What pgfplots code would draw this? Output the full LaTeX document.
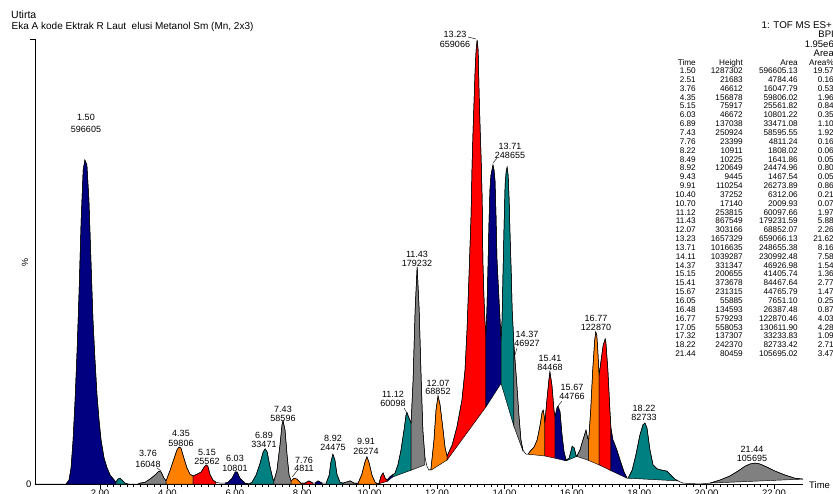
\documentclass[border=0pt]{standalone}
\usepackage{fontspec}
\setmainfont{Liberation Sans}
\usepackage{pgfplots}
\usepackage{pgfplotstable}
\pgfplotsset{compat=1.18}
\definecolor{cnavy}{RGB}{0,0,128}
\definecolor{corange}{RGB}{255,128,0}
\definecolor{cred}{RGB}{255,0,0}
\definecolor{cteal}{RGB}{0,128,128}
\definecolor{cgray}{RGB}{128,128,128}

\pgfplotstableread{
t y
0.07 0
0.99 0
1.08 0.9
1.14 3.6
1.20 9.9
1.26 18.9
1.32 30.1
1.38 43.6
1.44 59.3
1.50 70.6
1.55 72.8
1.61 71.7
1.67 63.8
1.73 50.3
1.79 36.9
1.85 27.9
1.91 20.0
1.97 14.4
2.03 9.9
2.12 5.8
2.21 3.6
2.30 2.0
2.42 0.9
2.47 0.4
2.53 1.1
2.59 1.3
2.65 0.9
2.74 0.2
2.83 0
3.13 0
3.19 0.2
3.34 0.4
3.48 1.1
3.63 2.0
3.75 2.9
3.81 2.7
3.90 1.3
3.96 0.7
4.08 3.1
4.20 5.8
4.28 7.6
4.34 8.3
4.40 8.1
4.49 5.8
4.58 3.6
4.67 2.2
4.76 1.8
4.88 2.2
5.00 2.7
5.09 3.8
5.15 4.3
5.20 4.0
5.26 2.2
5.35 0.9
5.44 0.4
5.56 0.2
5.71 0.2
5.80 0.4
5.92 1.3
6.01 2.7
6.07 2.7
6.15 1.3
6.30 0.2
6.42 0
6.51 0.4
6.63 2.0
6.75 4.7
6.84 7.2
6.90 7.9
6.96 7.2
7.04 4.0
7.13 1.1
7.16 0.7
7.25 3.1
7.34 8.8
7.40 13.3
7.43 14.2
7.49 12.1
7.55 6.5
7.61 2.0
7.67 0.7
7.76 1.3
7.84 1.1
7.96 0.2
8.08 0.2
8.20 0.7
8.32 0.2
8.38 0.2
8.47 0.7
8.59 0.2
8.71 0.2
8.80 2.0
8.85 4.9
8.91 6.7
8.97 5.4
9.03 2.2
9.12 0.4
9.21 0.2
9.42 0.7
9.54 0.2
9.66 0.2
9.77 2.2
9.86 4.9
9.92 6.1
9.98 4.9
10.07 2.0
10.16 0.4
10.25 0
10.28 0.2
10.34 1.8
10.40 2.5
10.46 1.3
10.52 0.9
10.61 1.7
10.69 2.1
10.75 2.4
10.84 4.3
10.93 7.6
11.02 12.1
11.08 15.5
11.11 16.0
11.17 14.8
11.23 13.7
11.29 23.4
11.35 39.1
11.41 48.8
11.47 39.1
11.53 23.4
11.58 12.1
11.64 6.1
11.70 4.0
11.76 3.1
11.82 3.4
11.91 9.9
11.97 16.6
12.03 19.8
12.09 17.8
12.18 12.1
12.24 8.1
12.30 6.3
12.45 8.8
12.59 12.8
12.74 18.9
12.83 25.6
12.89 34.6
12.95 47.0
12.98 53.7
13.01 60.4
13.04 71.7
13.07 79.6
13.10 86.3
13.13 93.0
13.16 97.5
13.19 99.8
13.22 97.5
13.25 87.4
13.28 79.6
13.31 72.8
13.34 63.8
13.36 50.3
13.39 42.5
13.42 36.9
13.45 33.5
13.48 39.1
13.51 48.1
13.54 58.2
13.57 66.1
13.60 69.4
13.66 71.7
13.69 70.6
13.72 68.3
13.75 60.4
13.78 50.3
13.84 41.3
13.87 36.9
13.90 32.4
13.93 36.9
13.96 48.1
13.99 58.2
14.02 67.2
14.05 70.1
14.08 71.2
14.11 69.4
14.14 63.8
14.17 55.1
14.20 48.1
14.23 39.1
14.26 34.6
14.28 31.2
14.31 28.3
14.37 22.2
14.43 15.5
14.49 9.9
14.55 7.6
14.64 6.7
14.70 6.7
14.79 7.6
14.88 8.3
14.97 9.9
15.06 13.3
15.12 16.2
15.15 16.6
15.18 15.3
15.20 13.7
15.26 18.9
15.32 23.4
15.35 25.2
15.41 22.2
15.47 16.6
15.50 15.1
15.56 17.1
15.59 17.5
15.65 16.2
15.71 11.0
15.77 7.2
15.83 5.4
15.92 5.8
16.01 8.5
16.07 8.1
16.13 6.3
16.15 6.3
16.24 7.6
16.33 9.9
16.42 12.1
16.47 10.3
16.50 9.9
16.56 16.6
16.62 25.6
16.68 32.4
16.71 34.2
16.74 33.5
16.77 30.1
16.81 24.5
16.87 27.9
16.93 31.2
16.99 32.6
17.01 31.9
17.07 25.6
17.13 16.6
17.16 12.6
17.22 9.9
17.25 9.4
17.34 7.6
17.43 5.4
17.55 2.7
17.64 1.3
17.67 1.3
17.79 3.1
17.90 6.5
18.02 11.0
18.11 13.3
18.17 13.7
18.23 12.6
18.32 7.6
18.41 4.3
18.53 3.4
18.68 3.1
18.82 2.9
18.94 2.0
19.06 1.1
19.15 0.7
19.30 0.2
19.80 0
20.10 0.2
20.40 0.9
20.69 1.8
20.93 2.9
21.14 4.0
21.29 4.5
21.44 4.7
21.58 4.5
21.79 3.8
22.03 2.9
22.33 2.0
22.62 1.3
22.86 1.1
}\curve

% domain min, domain max, t1, b1, t2, b2, colour
\newcommand{\pk}[7]{%
  \addplot[fill=#7, draw=black, line width=0.45pt, restrict x to domain=#1:#2]
    table[x=t,y=y] {\curve} -- (axis cs:#5,#6) -- (axis cs:#3,#4) -- cycle;
}
\newcommand{\pl}{\fontsize{9}{9}\selectfont}
\newcommand{\tbf}{\fontsize{8.2}{9}\selectfont}

\begin{document}
\begin{tikzpicture}
\begin{axis}[
  scale only axis,
  width=768pt, height=445pt,
  xmin=0.07, xmax=22.86, ymin=0, ymax=100,
  axis x line*=bottom, axis y line*=left,
  xtick={2,4,...,22}, minor x tick num=9, xticklabels={},
  ytick={100}, yticklabels={},
  tick align=outside, major tick length=4.5pt, minor tick length=2.5pt,
  tick style={black, line width=0.5pt},
  axis line style={black, line width=0.6pt},
]
\coordinate (O) at (rel axis cs:0,0);
\pk{0.985}{2.475}{0.99}{0}{2.47}{0}{cnavy}
\pk{2.465}{2.835}{2.47}{0}{2.83}{0}{cteal}
\pk{3.125}{3.965}{3.13}{0}{3.96}{0}{cgray}
\pk{3.955}{4.765}{3.96}{0}{4.76}{0}{corange}
\pk{4.755}{5.445}{4.76}{0}{5.44}{0}{cred}
\pk{5.705}{6.425}{5.71}{0}{6.42}{0}{cnavy}
\pk{6.415}{7.165}{6.42}{0}{7.16}{0}{cteal}
\pk{7.155}{7.675}{7.16}{0}{7.67}{0}{cgray}
\pk{7.665}{8.085}{7.67}{0}{8.08}{0}{corange}
\pk{8.075}{8.325}{8.08}{0}{8.32}{0}{cred}
\pk{8.375}{8.595}{8.38}{0}{8.59}{0}{cnavy}
\pk{8.705}{9.215}{8.71}{0}{9.21}{0}{cteal}
\pk{9.205}{9.665}{9.21}{0}{9.66}{0}{cgray}
\pk{9.655}{10.255}{9.66}{0}{10.25}{0}{corange}
\pk{10.245}{10.525}{10.25}{0}{10.52}{0.6}{cred}
\pk{10.515}{10.695}{10.52}{0.6}{10.69}{1.6}{cnavy}
\pk{10.685}{11.235}{10.69}{1.6}{11.23}{3.1}{cteal}
\pk{11.225}{11.645}{11.23}{3.1}{11.64}{4.3}{cgray}
\pk{11.815}{12.305}{11.82}{3.1}{12.30}{5.4}{corange}
\pk{12.295}{13.455}{12.30}{5.4}{13.45}{17.3}{cred}
\pk{13.445}{13.905}{13.45}{17.3}{13.90}{22.6}{cnavy}
\pk{13.895}{14.285}{13.90}{22.6}{14.28}{13.0}{cteal}
\pk{14.275}{14.555}{14.28}{13.0}{14.55}{7.4}{cgray}
\pk{14.695}{15.205}{14.70}{6.7}{15.20}{6.3}{corange}
\pk{15.195}{15.505}{15.20}{6.3}{15.50}{5.8}{cred}
\pk{15.495}{15.835}{15.50}{5.8}{15.83}{5.2}{cnavy}
\pk{15.825}{16.155}{15.83}{5.2}{16.15}{6.2}{cteal}
\pk{16.145}{16.505}{16.15}{6.2}{16.50}{5.3}{cgray}
\pk{16.495}{16.815}{16.50}{5.3}{16.81}{4.3}{corange}
\pk{16.805}{17.165}{16.81}{4.3}{17.16}{3.0}{cred}
\pk{17.155}{17.645}{17.16}{3.0}{17.64}{1.3}{cnavy}
\pk{17.665}{19.155}{17.67}{1.3}{19.15}{0.7}{cteal}
\pk{20.095}{22.865}{20.10}{0.2}{22.86}{1.1}{cgray}
\addplot[black, line width=0.5pt] table[x=t,y=y] {\curve};
\end{axis}

\begin{scope}[shift={(O)}, x=1pt, y=1pt, xshift=-35pt, yshift=484pt, yscale=-1]
\pgfresetboundingbox
\useasboundingbox (0,0) rectangle (833,493);
\clip (0,0) rectangle (833,493);
\node[rotate=90, font=\fontsize{9}{10}\selectfont] at (25,262) {\%};
% titles
\node[anchor=mid west, inner sep=0, font=\fontsize{10.5}{11}\selectfont] at (11,15.5) {Utirta};
\node[anchor=mid west, inner sep=0, font=\fontsize{10}{11}\selectfont] at (11.5,27) {Eka A kode Ektrak R Laut\ \ elusi Metanol Sm (Mn, 2x3)};
\node[anchor=mid east, inner sep=0, font=\fontsize{9.8}{11}\selectfont] at (832,26) {1: TOF MS ES+};
\node[anchor=mid east, inner sep=0, font=\fontsize{9.5}{11}\selectfont] at (834,35) {BPI};
\node[anchor=mid east, inner sep=0, font=\fontsize{9.5}{11}\selectfont] at (834,45) {1.95e6};
\node[anchor=mid east, inner sep=0, font=\fontsize{9.5}{11}\selectfont] at (834,54) {Area};
% peak table
\node[anchor=mid east, inner sep=0, font=\tbf] at (696,63) {Time};
\node[anchor=mid east, inner sep=0, font=\tbf] at (743,63) {Height};
\node[anchor=mid east, inner sep=0, font=\tbf] at (798,63) {Area};
\node[anchor=mid east, inner sep=0, font=\tbf] at (834,63) {Area\%};
\foreach \ta/\tb/\tc/\td [count=\i from 0] in {
1.50/1287302/596605.13/19.57, 2.51/21683/4784.46/0.16, 3.76/46612/16047.79/0.53,
4.35/156878/59806.02/1.96, 5.15/75917/25561.82/0.84, 6.03/46672/10801.22/0.35,
6.89/137038/33471.08/1.10, 7.43/250924/58595.55/1.92, 7.76/23399/4811.24/0.16,
8.22/10911/1808.02/0.06, 8.49/10225/1641.86/0.05, 8.92/120649/24474.96/0.80,
9.43/9445/1467.54/0.05, 9.91/110254/26273.89/0.86, 10.40/37252/6312.06/0.21,
10.70/17140/2009.93/0.07, 11.12/253815/60097.66/1.97, 11.43/867549/179231.59/5.88,
12.07/303166/68852.07/2.26, 13.23/1657329/659066.13/21.62, 13.71/1016635/248655.38/8.16,
14.11/1039287/230992.48/7.58, 14.37/331347/46926.98/1.54, 15.15/200655/41405.74/1.36,
15.41/373678/84467.64/2.77, 15.67/231315/44765.79/1.47, 16.05/55885/7651.10/0.25,
16.48/134593/26387.48/0.87, 16.77/579293/122870.46/4.03, 17.05/558053/130611.90/4.28,
17.32/137307/33233.83/1.09, 18.22/242370/82733.42/2.71, 21.44/80459/105695.02/3.47} {
  \node[anchor=mid east, inner sep=0, font=\tbf] at (696,{71+8.84*\i}) {\ta};
  \node[anchor=mid east, inner sep=0, font=\tbf] at (743,{71+8.84*\i}) {\tb};
  \node[anchor=mid east, inner sep=0, font=\tbf] at (798,{71+8.84*\i}) {\tc};
  \node[anchor=mid east, inner sep=0, font=\tbf] at (834,{71+8.84*\i}) {\td};
}
% peak labels
\foreach \x/\ya/\yb/\la/\lb in {
86/118/130/1.50/596605, 148/454/465/3.76/16048, 181/434/444/4.35/59806,
207/453/462/5.15/25562, 235/459/469/6.03/10801, 264/436/445/6.89/33471,
283/410/419/7.43/58596, 304/461/469/7.76/4811, 333/439/448/8.92/24475,
366/442/452/9.91/26274, 393/395/404/11.12/60098, 417/255/264/11.43/179232,
438/384/392/12.07/68852, 455/35/45/13.23/659066, 510/147/156/13.71/248655,
527/335/344/14.37/46927, 550/359/368/15.41/84468, 572/388/397/15.67/44766,
596/319/328/16.77/122870, 644/409/418/18.22/82733, 752/450/459/21.44/105695} {
  \node[anchor=mid, inner sep=0, font=\pl] at (\x,\ya) {\la};
  \node[anchor=mid, inner sep=0, font=\pl] at (\x,\yb) {\lb};
}
% leader lines
\draw[line width=0.4pt] (157,468) -- (161,471);
\draw[line width=0.4pt] (297,471) -- (292,477);
\draw[line width=0.4pt] (404,408) -- (407,413);
\draw[line width=0.4pt] (468,37) -- (476,39);
\draw[line width=0.4pt] (497,158) -- (493,163);
\draw[line width=0.4pt] (517,348) -- (515,355);
\draw[line width=0.4pt] (562,401) -- (558,406);
% axis texts
\node[anchor=mid east, inner sep=0, font=\fontsize{9.5}{10}\selectfont] at (31.5,485) {0};
\node[anchor=base west, inner sep=0, font=\fontsize{9.5}{10}\selectfont] at (809,488) {Time};
\foreach \x/\s in {100/2.00, 167.4/4.00, 234.8/6.00, 302.2/8.00, 369.6/10.00, 437/12.00,
  504.4/14.00, 571.8/16.00, 639.2/18.00, 706.6/20.00, 774/22.00} {
  \node[anchor=base, inner sep=0, font=\fontsize{9.5}{10}\selectfont] at (\x,496) {\s};
}
\end{scope}
\end{tikzpicture}
\end{document}
